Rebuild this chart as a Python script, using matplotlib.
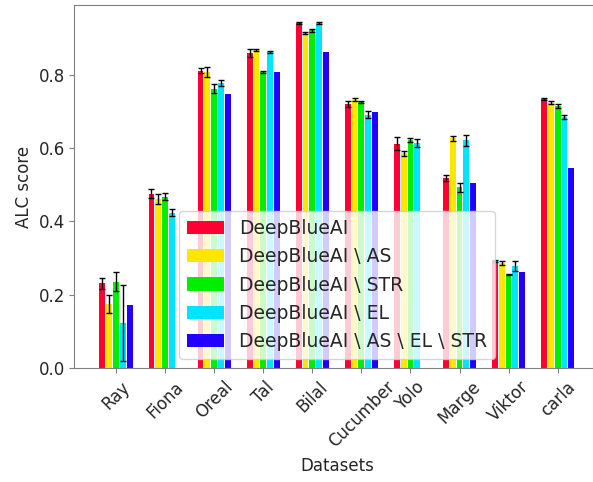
import numpy as np
import matplotlib
matplotlib.use("Agg")
import matplotlib.pyplot as plt

datasets = ["Ray", "Fiona", "Oreal", "Tal", "Bilal", "Cucumber", "Yolo", "Marge", "Viktor", "carla"]
labels = ["DeepBlueAI", "DeepBlueAI \\ AS", "DeepBlueAI \\ STR", "DeepBlueAI \\ EL",
          "DeepBlueAI \\ AS \\ EL \\ STR"]
colors = ["#ff0033", "#ffe600", "#00ee00", "#00e5ff", "#2200ff"]

full = [0.231, 0.476, 0.810, 0.859, 0.941, 0.719, 0.612, 0.519, 0.292, 0.733]
no_as = [0.175, 0.461, 0.807, 0.867, 0.913, 0.731, 0.585, 0.626, 0.287, 0.723]
no_str = [0.236, 0.467, 0.762, 0.808, 0.921, 0.726, 0.621, 0.493, 0.256, 0.714]
no_el = [0.124, 0.424, 0.777, 0.862, 0.941, 0.691, 0.614, 0.621, 0.279, 0.685]
no_all = [0.172, np.nan, 0.746, 0.808, 0.862, 0.698, np.nan, 0.505, 0.261, 0.546]

full_err = [0.014, 0.011, 0.007, 0.010, 0.002, 0.008, 0.017, 0.008, 0.003, 0.003]
no_as_err = [0.024, 0.014, 0.013, 0.003, 0.002, 0.004, 0.006, 0.006, 0.006, 0.004]
no_str_err = [0.025, 0.010, 0.012, 0.003, 0.004, 0.003, 0.006, 0.012, 0.002, 0.006]
no_el_err = [0.104, 0.010, 0.007, 0.002, 0.003, 0.010, 0.010, 0.015, 0.014, 0.006]

series = [full, no_as, no_str, no_el, no_all]
errors = [full_err, no_as_err, no_str_err, no_el_err, None]

plt.rcParams["text.color"] = "#262626"
plt.rcParams["axes.labelcolor"] = "#262626"
plt.rcParams["xtick.color"] = "#808080"
plt.rcParams["ytick.color"] = "#808080"
plt.rcParams["xtick.labelcolor"] = "#262626"
plt.rcParams["ytick.labelcolor"] = "#262626"

fig = plt.figure(figsize=(5.93, 4.82), dpi=100)
# the original image is cropped on the right, so the axes run past the edge
ax = fig.add_axes([0.1256, 0.236, 0.885, 0.754])

x = np.arange(len(datasets))
step = 0.14
width = 0.12
for i, (vals, err, lab, col) in enumerate(zip(series, errors, labels, colors)):
    ax.bar(x + (i - 2) * step, vals, width, yerr=err, color=col, label=lab,
           capsize=2, error_kw=dict(ecolor="black", elinewidth=1, capthick=1))

for s in ax.spines.values():
    s.set_color("#808080")
ax.spines["right"].set_visible(False)

ax.set_xticks(x)
ax.set_xticklabels(datasets, rotation=45, fontsize=12)
ax.tick_params(axis="y", labelsize=12)
ax.set_yticks([0.0, 0.2, 0.4, 0.6, 0.8])
ax.set_ylim(0, 0.99)
ax.set_xlim(-0.85, 9.85)
ax.set_xlabel("Datasets", fontsize=12)
ax.set_ylabel("ALC score", fontsize=12)
ax.legend(loc="lower center", fontsize=13.5)

fig.savefig("out.png", dpi=100)
